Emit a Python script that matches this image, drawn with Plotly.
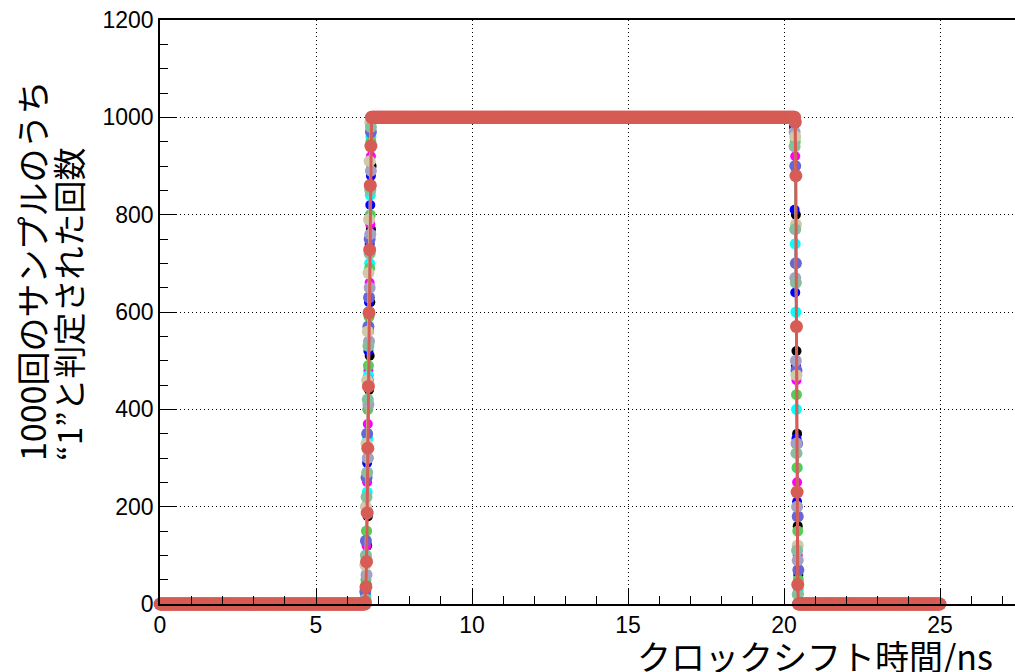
import numpy as np
import plotly.graph_objects as go

# ---- data ----
x_step = 0.02
x_max = 25.0
x_grid = np.round(np.arange(0, x_max + 1e-9, x_step), 2)

series_names = ["s1", "s2", "s3", "s4", "s5", "s6", "s7", "s8", "s9", "s10"]
series_colors = ["#000000", "#0000ff", "#ff00ff", "#00ffff", "#55cc55",
                 "#6666d6", "#a4a2c4", "#cfc9aa", "#85bf9f", "#d65c55"]
marker_sizes = [10, 10, 10, 11, 11, 12, 12, 12, 12, 13]
line_widths = [1, 1, 1, 1, 1, 1.5, 1.5, 1.5, 1.5, 3]

rise_start = [6.60, 6.58, 6.60, 6.60, 6.60, 6.58, 6.62, 6.56, 6.58, 6.58]
rise_values = [
    [10, 40, 120, 180, 300, 440, 510, 620, 770, 900],
    [20, 60, 150, 290, 400, 520, 620, 740, 820, 880],
    [30, 120, 250, 370, 480, 560, 660, 780, 920],
    [15, 90, 230, 340, 470, 600, 700, 840, 960],
    [50, 150, 270, 400, 490, 590, 690, 800, 950],
    [25, 130, 260, 350, 460, 570, 630, 750, 860, 970],
    [60, 190, 300, 410, 540, 650, 760, 890],
    [5, 80, 200, 330, 460, 560, 680, 790, 910, 990],
    [10, 100, 220, 270, 420, 530, 600, 720, 850, 980],
    [4, 35, 87, 187, 320, 447, 598, 728, 860, 941],
]
plateau_value = 1000
fall_start = [20.36, 20.32, 20.36, 20.34, 20.36, 20.36, 20.34, 20.36, 20.34, 20.36]
fall_values = [
    [960, 800, 520, 350, 160, 60],
    [980, 810, 640, 490, 340, 210, 90, 20],
    [920, 700, 460, 250, 100, 20],
    [990, 740, 600, 400, 280, 120, 30],
    [950, 660, 430, 280, 150, 50],
    [900, 700, 480, 330, 180, 70],
    [970, 670, 500, 330, 200, 90],
    [960, 780, 470, 230, 120, 40],
    [940, 770, 660, 310, 110, 20],
    [990, 880, 570, 230, 40],
]

x_ticks = [0, 5, 10, 15, 20, 25]
y_ticks = [0, 200, 400, 600, 800, 1000, 1200]
x_title = "クロックシフト時間/ns"
y_title_1 = "1000回のサンプルのうち"
y_title_2 = "“1”と判定された回数"

# ---- build ----
W, H = 1015, 672
L, T, B = 160, 20, 68
plot_w = W - L
plot_h = H - T - B
x_range_max = plot_w / 31.2

fig = go.Figure()
n = len(x_grid)
for i in range(len(series_names)):
    i0 = int(round(rise_start[i] / x_step))
    r = rise_values[i]
    j0 = int(round(fall_start[i] / x_step))
    f = fall_values[i]
    y = ([0] * i0 + r + [plateau_value] * (j0 - i0 - len(r)) + f
         + [0] * (n - j0 - len(f)))
    fig.add_trace(go.Scatter(
        x=x_grid, y=y, mode="lines+markers", name=series_names[i],
        line=dict(color=series_colors[i], width=line_widths[i]),
        marker=dict(color=series_colors[i], size=marker_sizes[i], line=dict(width=0)),
        cliponaxis=False, hoverinfo="skip", showlegend=False,
    ))

axis_font = dict(family="Liberation Sans, Arial, sans-serif", size=23, color="black")
fig.update_layout(
    width=W, height=H,
    margin=dict(l=L, r=0, t=T, b=B),
    paper_bgcolor="white", plot_bgcolor="white",
    xaxis=dict(
        range=[0, x_range_max], tickvals=x_ticks, tickfont=axis_font,
        showline=True, linecolor="black", linewidth=1.5, mirror=True,
        ticks="inside", ticklen=16, tickcolor="black", tickwidth=1,
        minor=dict(dtick=1, ticks="inside", ticklen=8, tickcolor="black", showgrid=False),
        showgrid=True, gridcolor="black", griddash="1px,3px", gridwidth=1,
        zeroline=False,
    ),
    yaxis=dict(
        range=[0, 1200], tickvals=y_ticks, tickfont=axis_font,
        showline=True, linecolor="black", linewidth=1.5, mirror=False,
        ticks="inside", ticklen=16, tickcolor="black", tickwidth=1,
        minor=dict(dtick=50, ticks="inside", ticklen=8, tickcolor="black", showgrid=False),
        showgrid=True, gridcolor="black", griddash="1px,3px", gridwidth=1,
        zeroline=False,
    ),
)

cjk = "Noto Sans CJK JP"
fig.add_annotation(
    text=x_title, xref="paper", yref="paper",
    x=(995 - L) / plot_w, y=-(655 - (T + plot_h)) / plot_h,
    xanchor="right", yanchor="middle", showarrow=False,
    font=dict(family=cjk, size=34, color="black"),
)
y_bottom = (T + plot_h - 463) / plot_h
fig.add_annotation(
    text=y_title_1, xref="paper", yref="paper",
    x=(31 - L) / plot_w, y=y_bottom, textangle=-90,
    xanchor="center", yanchor="bottom", showarrow=False,
    font=dict(family=cjk, size=34, color="black"),
)
fig.add_annotation(
    text=y_title_2, xref="paper", yref="paper",
    x=(68 - L) / plot_w, y=y_bottom, textangle=-90,
    xanchor="center", yanchor="bottom", showarrow=False,
    font=dict(family=cjk, size=33, color="black"),
)

fig.write_html("out.html", config={"displayModeBar": False},
               post_script="document.body.style.margin='0px';")
